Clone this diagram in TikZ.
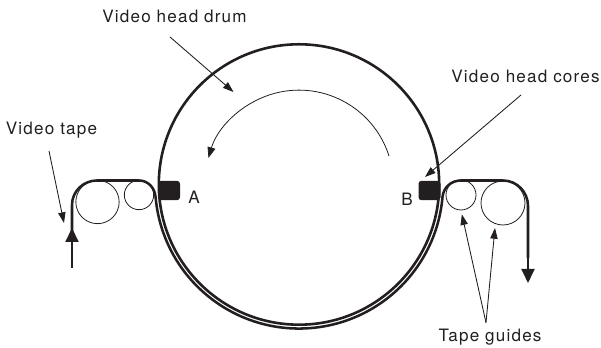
\documentclass[tikz,border=0pt]{standalone}
\usepackage{fontspec}
\setmainfont[LetterSpace=7]{TeX Gyre Heros}
\usetikzlibrary{arrows.meta}
\definecolor{ink}{HTML}{231F20}

\begin{document}
\begin{tikzpicture}[
  x=0.75pt,y=0.75pt,
  ink,
  label/.style={inner sep=0pt,text=ink,font=\fontsize{12.8}{14}\selectfont},
  guide/.style={circle,draw=ink,line width=0.6pt,inner sep=0pt},
  core/.style={rectangle,fill=ink,rounded corners=2.2pt,inner sep=0pt,minimum width=16.5pt,minimum height=14.5pt},
  leader/.style={line width=0.65pt,-{Triangle[length=8pt,width=5.5pt]}},
  tape/.style={line width=1.9pt,line join=round},
  tapeend/.style={line width=1.7pt,-{Triangle[length=10.5pt,width=9.7pt]}}
]
  \useasboundingbox (0,0) rectangle (601,348);
  \node[circle,draw=ink,line width=1.95pt,minimum size=210.3pt,inner sep=0pt] (drum) at (299,163.5) {};
  \node[guide,minimum size=32.5pt] (g1) at (97.5,146) {};
  \node[guide,minimum size=22pt] (g2) at (139,153) {};
  \node[guide,minimum size=22.5pt] (g3) at (461,153) {};
  \node[guide,minimum size=33pt] (g4) at (503,145) {};
  \node[core] (coreA) at (169,157.5) {};
  \node[core] (coreB) at (429.5,157.5) {};
  \node[label] (lblA) at (194,151) {A};
  \node[label] (lblB) at (407,149) {B};
  \node[label] (lblDrum) at (174.5,332) {Video head drum};
  \node[label] (lblTape) at (51.5,218) {Video tape};
  \node[label] (lblCores) at (525.5,272) {Video head cores};
  \node[label] (lblGuides) at (490,11) {Tape guides};
  \coordinate (drumFrom) at (170,311);
  \coordinate (drumTo) at (233.5,256);
  \coordinate (tapeFrom) at (49,197);
  \coordinate (tapeTo) at (64,125);
  \coordinate (coresFrom) at (521,253);
  \coordinate (coresTo) at (425,171);
  \coordinate (guidesFrom) at (486,25.3);
  \coordinate (rotFrom) at (389,192);
  \coordinate (tapeIn) at (72,80);
  \coordinate (tapeOut) at (528,65);
  % tape path
  \draw[tapeend] (tapeIn) -- (72,120);
  \draw[tape] (72,110) -- (72,143) to[out=90,in=180] (97,167.5) -- (139,167.5)
    to[out=0,in=95] (155.6,150.9) arc (185:355:144)
    to[out=85,in=180] (461,167.5) -- (503,167.5) to[out=0,in=90] (528,142) -- (528,90);
  \draw[tapeend] (528,90) -- (tapeOut);
  % rotation
  \draw[line width=0.6pt,-{Triangle[length=8pt,width=6pt]}] (rotFrom) arc (17.6:163.6:94.4);
  % leaders
  \draw[leader] (drumFrom) -- (drumTo);
  \draw[leader] (tapeFrom) -- (tapeTo);
  \draw[leader] (coresFrom) -- (coresTo);
  \draw[leader,shorten >=3pt] (guidesFrom) -- (g3.south);
  \draw[leader,shorten >=3pt] (guidesFrom) -- (g4.250);
\end{tikzpicture}
\end{document}
